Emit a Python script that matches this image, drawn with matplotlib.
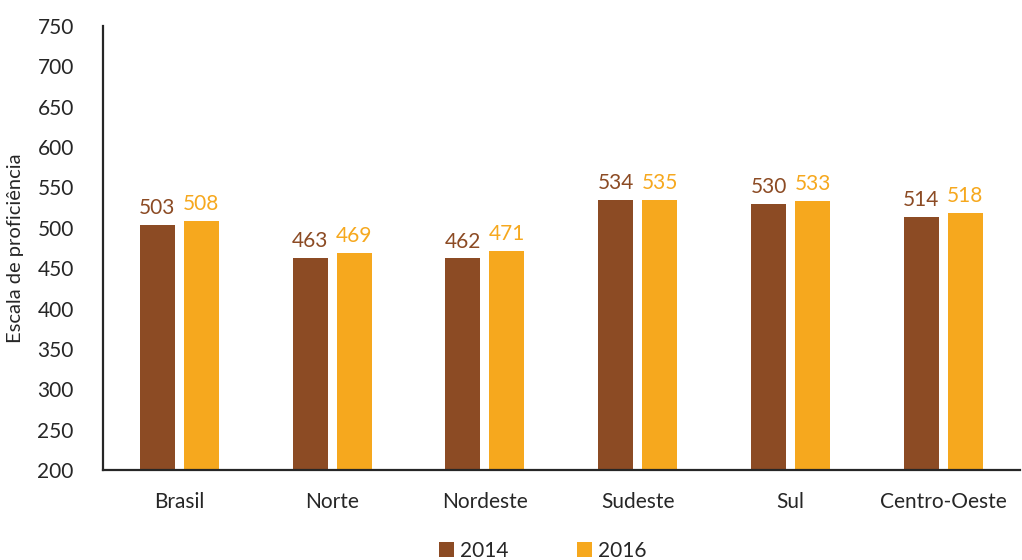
import matplotlib

matplotlib.use("Agg")
import matplotlib.pyplot as plt
import numpy as np

regions = ["Brasil", "Norte", "Nordeste", "Sudeste", "Sul", "Centro-Oeste"]
values_2014 = [503, 463, 462, 534, 530, 514]
values_2016 = [508, 469, 471, 535, 533, 518]
years = ["2014", "2016"]
y_ticks = list(range(200, 751, 50))

brown = "#8C4B24"
orange = "#F6A81E"
text_color = "#262626"

plt.rcParams["font.family"] = ["Lato", "DejaVu Sans"]

fig = plt.figure(figsize=(10.22, 5.6), dpi=100)
ax = fig.add_axes([0.1008, 0.1607, 0.897, 0.7929])

x = np.arange(len(regions))
width = 0.229
offset = 0.144
bars_a = ax.bar(x - offset, values_2014, width, bottom=0, color=brown, label=years[0])
bars_b = ax.bar(x + offset, values_2016, width, bottom=0, color=orange, label=years[1])

for bars, color in ((bars_a, brown), (bars_b, orange)):
    for bar in bars:
        ax.annotate(f"{bar.get_height():.0f}", (bar.get_x() + bar.get_width() / 2, bar.get_height()),
                    xytext=(0, 5), textcoords="offset points", ha="center", va="bottom",
                    fontsize=15, color=color)

ax.set_ylim(200, 750)
ax.set_xlim(-0.5, len(regions) - 0.5)
ax.set_yticks(y_ticks)
ax.set_xticks(x)
ax.set_xticklabels(regions)
ax.tick_params(axis="both", length=0, labelsize=15, colors=text_color)
ax.tick_params(axis="x", pad=16)
ax.tick_params(axis="y", pad=21)
for side in ("top", "right"):
    ax.spines[side].set_visible(False)
for side in ("left", "bottom"):
    ax.spines[side].set_linewidth(1.6)
    ax.spines[side].set_color(text_color)
ax.set_ylabel("Escala de proficiência", fontsize=14.5, color=text_color, labelpad=10)

ax.legend(loc="lower center", bbox_to_anchor=(0.48, -0.232), ncol=2, frameon=False,
          fontsize=15, handlelength=0.7, handleheight=0.7, handletextpad=0.3,
          columnspacing=3.3, borderpad=0.1, labelcolor=text_color)

fig.savefig("out.png", dpi=100)
